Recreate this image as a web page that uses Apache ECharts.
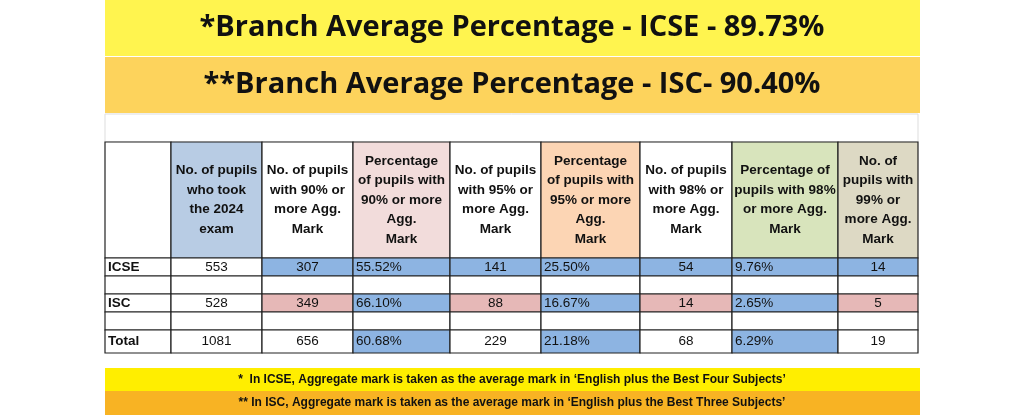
<!DOCTYPE html>
<html lang="en">
<head>
<meta charset="UTF-8">
<title>Branch results</title>
<script src="https://cdn.jsdelivr.net/npm/echarts@6/dist/echarts.min.js"></script>
<style>html,body{margin:0;padding:0;background:#fff}</style>
</head>
<body>
<div id="main" style="width:1024px;height:415px;"></div>
<script type="text/javascript">
// table data
var headers = ['', 'No. of pupils\nwho took\nthe 2024\nexam', 'No. of pupils\nwith 90% or\nmore Agg.\nMark',
  'Percentage\nof pupils with\n90% or more\nAgg.\nMark', 'No. of pupils\nwith 95% or\nmore Agg.\nMark',
  'Percentage\nof pupils with\n95% or more\nAgg.\nMark', 'No. of pupils\nwith 98% or\nmore Agg.\nMark',
  'Percentage of\npupils with 98%\nor more Agg.\nMark', 'No. of\npupils with\n99% or\nmore Agg.\nMark'];
var rowLabels = ['ICSE', '', 'ISC', '', 'Total'];
var icse = ['553', '307', '55.52%', '141', '25.50%', '54', '9.76%', '14'];
var isc = ['528', '349', '66.10%', '88', '16.67%', '14', '2.65%', '5'];
var total = ['1081', '656', '60.68%', '229', '21.18%', '68', '6.29%', '19'];
var titleIcse = '*Branch Average Percentage - ICSE - 89.73%';
var titleIsc = '**Branch Average Percentage - ISC- 90.40%';
var noteIcse = "*  In ICSE, Aggregate mark is taken as the average mark in \u2018English plus the Best Four Subjects\u2019";
var noteIsc = "** In ISC, Aggregate mark is taken as the average mark in \u2018English plus the Best Three Subjects\u2019";

// layout
var colX = [105, 171, 262, 353, 450, 541, 640, 732, 838, 918];
var rowY = [142, 258, 276, 294, 312, 330, 353];
var headBg = ['#fff', '#b8cce4', '#fff', '#f2dcdb', '#fff', '#fcd5b4', '#fff', '#d8e4bc', '#ddd9c4'];
var BLUE = '#8db4e2', PINK = '#e6b8b7';

var bodyRows = [icse, null, isc, null, total];
var cells = [];
headers.forEach(function (h, c) { cells.push([c, 0, h, headBg[c], 'center', 'bold']); });
rowLabels.forEach(function (lab, r) {
  cells.push([0, r + 1, lab, '#fff', 'left', 'bold']);
  var vals = bodyRows[r];
  for (var c = 1; c <= 8; c++) {
    var v = vals ? vals[c - 1] : '';
    var isPct = v.indexOf('%') >= 0;
    var bg = '#fff';
    if (r === 0 && c >= 2) bg = BLUE;
    if (r === 2 && c >= 2) bg = isPct ? BLUE : PINK;
    if (r === 4 && isPct) bg = BLUE;
    cells.push([c, r + 1, v, bg, isPct ? 'left' : 'center', 'normal']);
  }
});

var myChart = echarts.init(document.getElementById('main'));
var option = {
  animation: false,
  grid: { left: 0, right: 0, top: 0, bottom: 0 },
  xAxis: { type: 'value', min: 0, max: 1024, show: false },
  yAxis: { type: 'value', min: 0, max: 415, inverse: true, show: false },
  graphic: [
    { type: 'rect', shape: { x: 105, y: 0, width: 815, height: 56 }, style: { fill: '#fff44f' } },
    { type: 'text', x: 512, y: 28, style: { text: titleIcse, font: 'bold 29px "Open Sans"', fill: '#111', align: 'center', verticalAlign: 'middle' } },
    { type: 'rect', shape: { x: 105, y: 57, width: 815, height: 56 }, style: { fill: '#fdd35c' } },
    { type: 'text', x: 512, y: 85, style: { text: titleIsc, font: 'bold 29px "Open Sans"', fill: '#111', align: 'center', verticalAlign: 'middle' } },
    { type: 'rect', shape: { x: 105, y: 114, width: 813, height: 28 }, style: { fill: '#fff', stroke: '#ddd', lineWidth: 1 } },
    { type: 'rect', shape: { x: 105, y: 368, width: 815, height: 23 }, style: { fill: '#ffee00' } },
    { type: 'text', x: 512, y: 380, style: { text: noteIcse, font: 'bold 12px "Liberation Sans"', fill: '#111', align: 'center', verticalAlign: 'middle' } },
    { type: 'rect', shape: { x: 105, y: 391, width: 815, height: 24 }, style: { fill: '#f8b323' } },
    { type: 'text', x: 512, y: 403, style: { text: noteIsc, font: 'bold 12px "Liberation Sans"', fill: '#111', align: 'center', verticalAlign: 'middle' } }
  ],
  series: [{
    type: 'custom',
    data: cells,
    renderItem: function (params, api) {
      var c = api.value(0), r = api.value(1);
      var d = cells[params.dataIndex];
      var p0 = api.coord([colX[c], rowY[r]]);
      var p1 = api.coord([colX[c + 1], rowY[r + 1]]);
      var w = p1[0] - p0[0], h = p1[1] - p0[1];
      var tx = d[4] === 'left' ? p0[0] + 3 : p0[0] + w / 2;
      return {
        type: 'group',
        children: [
          { type: 'rect', shape: { x: p0[0], y: p0[1], width: w, height: h },
            style: { fill: d[3], stroke: '#222', lineWidth: 1.2 } },
          { type: 'text', x: tx, y: p0[1] + h / 2,
            style: { text: d[2], fill: '#111', align: d[4], verticalAlign: 'middle',
              font: d[5] + (r === 0 ? ' 13.5px' : ' 13.5px') + ' "Liberation Sans Narrow", "Liberation Sans"',
              lineHeight: 19.5 } }
        ]
      };
    }
  }]
};
myChart.setOption(option);
</script>
</body>
</html>
